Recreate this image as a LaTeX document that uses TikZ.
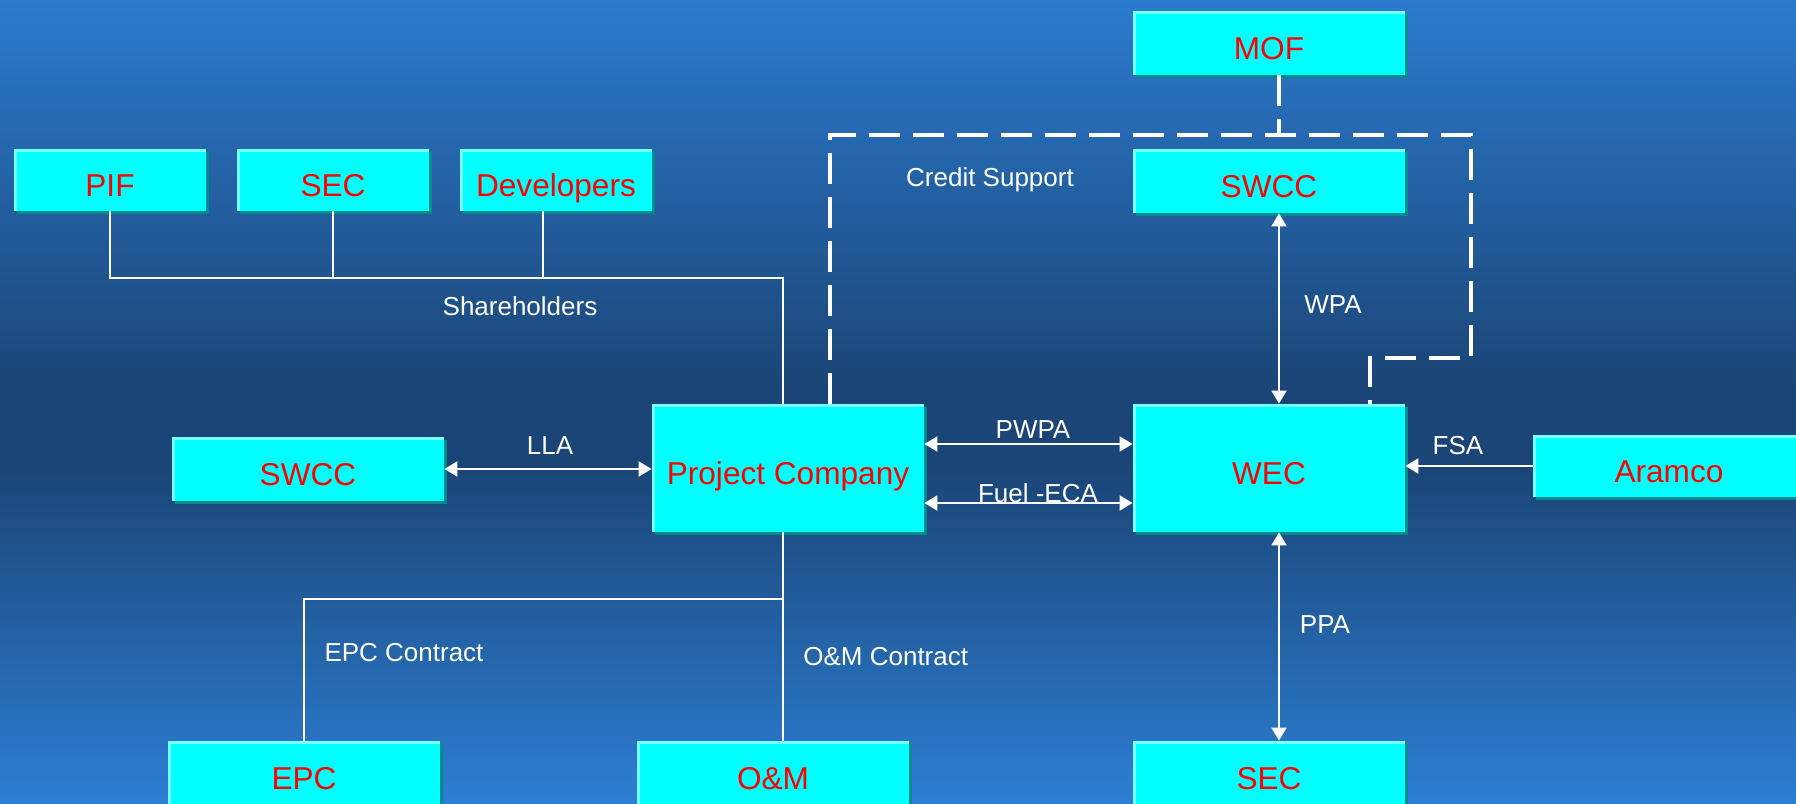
\documentclass[tikz,border=0pt]{standalone}
\usepackage{fontspec}
\setmainfont{Liberation Sans}
\usetikzlibrary{arrows.meta,shadows}
\definecolor{bgtop}{RGB}{43,123,206}
\definecolor{bgmid}{RGB}{27,69,118}
\definecolor{bgbot}{RGB}{44,127,212}
\definecolor{boxcyan}{RGB}{0,255,255}
\definecolor{boxshade}{RGB}{0,140,140}
\definecolor{boxhl}{RGB}{120,255,255}
\definecolor{lblred}{RGB}{255,0,0}
\pgfdeclareverticalshading{bgshade}{100bp}{color(0bp)=(bgbot); color(25bp)=(bgbot); color(46bp)=(bgmid); color(51bp)=(bgmid); color(75bp)=(bgtop); color(100bp)=(bgtop)}
\begin{document}
\begin{tikzpicture}[x=0.5pt,y=-0.5pt,
  ent/.style={fill=boxcyan, text=lblred, font=\fontsize{15.8}{18}\selectfont,
    inner sep=0pt, minimum height=31pt, minimum width=136pt,
    text height=16pt, text depth=0pt,
    general shadow={fill=boxshade, shadow xshift=1.6pt, shadow yshift=-1.6pt},
    path picture={\draw[boxhl,line width=2.8pt] (path picture bounding box.south west) -- (path picture bounding box.north west) -- (path picture bounding box.north east);}},
  lbl/.style={text=white, font=\fontsize{13}{15}\selectfont, inner sep=0pt},
  link/.style={draw=white, line width=1pt},
  dlink/.style={link, {Triangle[length=6.5pt,width=7.5pt]}-{Triangle[length=6.5pt,width=7.5pt]}},
  slink/.style={link, -{Triangle[length=6.5pt,width=7.5pt]}},
  dashline/.style={draw=white, line width=2pt, dash pattern=on 15.5pt off 6.5pt}]
\useasboundingbox (0,0) rectangle (1796,804);
\clip (0,0) rectangle (1796,804);
\shade[shading=bgshade] (0,0) rectangle (1796,804);

% entities
\node[ent, minimum width=96pt] (pif) at (110,180) {PIF};
\node[ent, minimum width=96pt] (sect) at (333,180) {SEC};
\node[ent, minimum width=96pt] (dev) at (556,180) {Developers};
\node[ent, minimum height=32pt] (mof) at (1269,43) {MOF};
\node[ent, minimum height=32pt] (swcct) at (1269,181) {SWCC};
\node[ent, minimum height=32pt] (swccl) at (308,469) {SWCC};
\node[ent, minimum height=64pt] (pc) at (788,468) {Project Company};
\node[ent, minimum height=64pt] (wec) at (1269,468) {WEC};
\node[ent] (aramco) at (1669,466) {Aramco};
\node[ent, minimum height=32pt] (epc) at (304,773) {EPC};
\node[ent, minimum height=32pt] (om) at (773,773) {O\&M};
\node[ent, minimum height=32pt] (secb) at (1269,773) {SEC};

% joints
\coordinate (sh) at (783,278);
\coordinate (ej) at (783,599);
\coordinate (wx) at (1279,0);
\coordinate (d1) at (830,135);
\coordinate (d2) at (1471,135);
\coordinate (d3) at (1471,358);
\coordinate (d4) at (1370,358);

% shareholders
\draw[link] (pif.south) |- (sh) -- (pc.north -| sh);
\draw[link] (sect.south) -- (sect.south |- sh);
\draw[link] ([xshift=-6.5pt]dev.south) -- ([xshift=-6.5pt]dev.south |- sh);
% contracts
\draw[link] (pc.south -| ej) -- (ej) -| (epc.north);
\draw[link] (ej) -- (om.north -| ej);
% agreements
\draw[dlink] (swccl.east) -- (pc.west |- swccl.east);
\draw[dlink] ([yshift=12pt]pc.east) -- ([yshift=12pt]wec.west);
\draw[dlink] ([yshift=-17.5pt]pc.east) -- ([yshift=-17.5pt]wec.west);
\draw[dlink] (swcct.south -| wx) -- (wec.north -| wx);
\draw[dlink] (wec.south -| wx) -- (secb.north -| wx);
\draw[slink] (aramco.west) -- (wec.east |- aramco.west);
% credit support
\draw[dashline] (pc.north -| d1) -- (d1) -- (d2) -- (d3) -- (d4) -- (wec.north -| d4);
\draw[dashline] (mof.south -| wx) -- (wx |- d1);

% labels
\node[lbl] (lsh) at (520,306) {Shareholders};
\node[lbl] (lcs) at (990,180) {Credit Support};
\node[lbl] (lwpa) at (1333,305) {WPA};
\node[lbl] (llla) at (550,446) {LLA};
\node[lbl] (lpwpa) at (1033,430) {PWPA};
\node[lbl] (lfuel) at (1038,493) {Fuel -ECA};
\node[lbl] (lfsa) at (1458,446) {FSA};
\node[lbl] (lppa) at (1325,625) {PPA};
\node[lbl] (lepc) at (404,653) {EPC Contract};
\node[lbl, anchor=west] (lom) at (803,657) {O\&M Contract};
\end{tikzpicture}
\end{document}
